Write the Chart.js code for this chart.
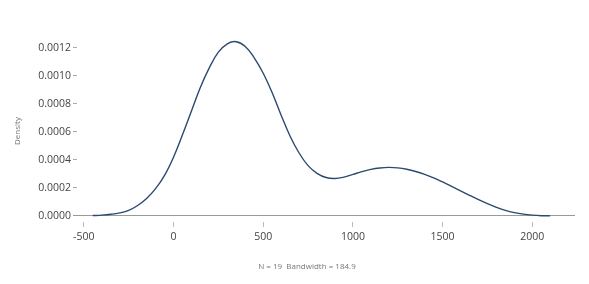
<!DOCTYPE html>
<html>
<head>
<meta charset="utf-8">
<script src="https://cdn.jsdelivr.net/npm/chart.js@4/dist/chart.umd.min.js"></script>
<style>
  html, body { margin: 0; padding: 0; background: #fff; }
  #wrap { width: 589px; height: 284px; }
</style>
</head>
<body>
<div id="wrap"><canvas id="densityChart" width="589" height="284"></canvas></div>
<script>
// density estimate
const xValues = [-450, -400, -350, -300, -250, -200, -150, -100, -50, 0,
  50, 100, 150, 200, 250, 300, 350, 400, 450, 500,
  550, 600, 650, 700, 750, 800, 850, 900, 950, 1000,
  1050, 1100, 1150, 1200, 1250, 1300, 1350, 1400, 1450, 1500,
  1550, 1600, 1650, 1700, 1750, 1800, 1850, 1900, 1950, 2000, 2050, 2100];
const density = [0.000003, 0.000006, 0.000012, 0.000022, 0.000040, 0.000075, 0.000125, 0.000195, 0.00029, 0.00042,
  0.00058, 0.00075, 0.00092, 0.00106, 0.00117, 0.00123, 0.001245, 0.00121, 0.00113, 0.00102,
  0.00088, 0.00072, 0.00057, 0.00045, 0.00036, 0.000305, 0.000275, 0.000268, 0.000278, 0.000297,
  0.000317, 0.000333, 0.000343, 0.000347, 0.000344, 0.000334, 0.000318, 0.000297, 0.000272, 0.000243,
  0.000212, 0.00018, 0.000148, 0.000117, 0.000088, 0.000062, 0.00004, 0.000024, 0.000013, 0.000006, 0.000002, 0.000001];
const xTicks = [-500, 0, 500, 1000, 1500, 2000];
const yTicks = [0, 0.0002, 0.0004, 0.0006, 0.0008, 0.0010, 0.0012];
const xTitle = 'N = 19  Bandwidth = 184.9';
const yTitle = 'Density';

const tickFont = { family: 'Open Sans', size: 10.5 };

// axis titles, placed like the R plot
const axisTitles = {
  id: 'axisTitles',
  afterDraw(chart) {
    const c = chart.ctx;
    c.save();
    c.fillStyle = '#777';
    c.font = '8px "Open Sans"';
    c.textAlign = 'center';
    c.textBaseline = 'middle';
    c.fillText(xTitle, 307, 267);
    c.translate(18, 131);
    c.rotate(-Math.PI / 2);
    c.fillText(yTitle, 0, 0);
    c.restore();
  }
};

const ctx = document.getElementById('densityChart').getContext('2d');

new Chart(ctx, {
  type: 'line',
  data: {
    datasets: [{
      data: xValues.map((x, i) => ({ x: x, y: density[i] })),
      borderColor: '#2b4a6f',
      borderWidth: 1.4,
      pointRadius: 0,
      fill: false,
      tension: 0.4
    }]
  },
  options: {
    responsive: false,
    animation: false,
    layout: { padding: { left: 0, right: 14, top: 27, bottom: 0 } },
    plugins: { legend: { display: false }, tooltip: { enabled: false } },
    scales: {
      x: {
        type: 'linear',
        min: -538,
        max: 2238,
        afterBuildTicks: s => { s.ticks = xTicks.map(v => ({ value: v })); },
        afterFit: s => { s.height = 62; },
        border: { display: false },
        grid: { drawOnChartArea: false, tickLength: 5, color: '#bbb', lineWidth: 1 },
        ticks: { font: tickFont, color: '#444', padding: 4, maxRotation: 0, callback: v => String(v) }
      },
      y: {
        min: -0.0000429,
        max: 0.00135,
        afterBuildTicks: s => { s.ticks = yTicks.map(v => ({ value: v })); },
        afterFit: s => { s.width = 77; },
        border: { display: false },
        grid: {
          tickLength: 4,
          color: c => (c.tick && c.tick.value === 0) ? '#999' : 'rgba(0,0,0,0)',
          tickColor: c => (c.tick && c.tick.value === 0) ? '#999' : '#aaa',
          lineWidth: 1
        },
        ticks: { font: tickFont, color: '#444', padding: 2, callback: v => v.toFixed(4) }
      }
    }
  },
  plugins: [axisTitles]
});
</script>
</body>
</html>
